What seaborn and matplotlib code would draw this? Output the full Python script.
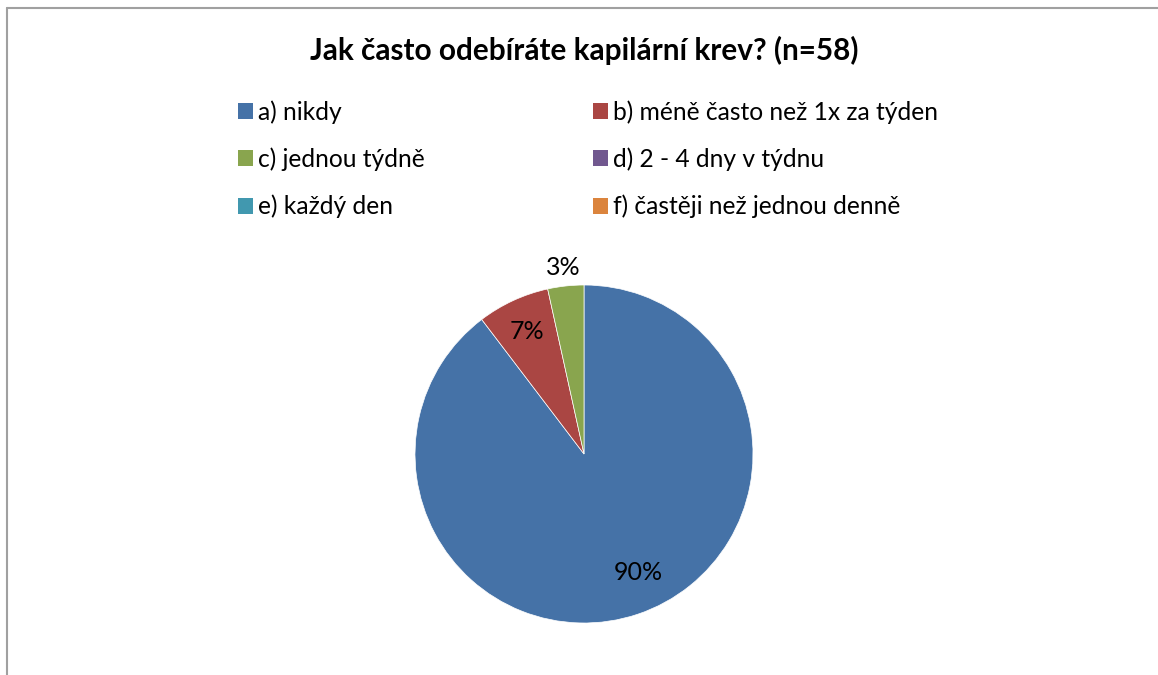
import matplotlib
matplotlib.use("Agg")
import matplotlib.pyplot as plt
from matplotlib.patches import Patch
from matplotlib.lines import Line2D
import numpy as np
import seaborn as sns

# ---- data ----
title = "Jak často odebíráte kapilární krev? (n=58)"
categories = ["a) nikdy", "b) méně často než 1x za týden", "c) jednou týdně",
              "d) 2 - 4 dny v týdnu", "e) každý den", "f) častěji než jednou denně"]
counts = [52, 4, 2, 0, 0, 0]
colors = ["#4572A7", "#AA4643", "#89A54E", "#71588F", "#4198AF", "#DB843D"]

# ---- style ----
sns.set_theme(style="white")
plt.rcParams["font.family"] = ["Lato", "DejaVu Sans"]

W, H = 1158, 675
fig = plt.figure(figsize=(W / 100, H / 100), dpi=100)
fig.patch.set_facecolor("white")

# pie axes: center (584, 454) px, radius 169 px
R = 169
cx, cy = 584, H - 454
lim = 1.2
size = 2 * lim * R
ax = fig.add_axes([(cx - size / 2) / W, (cy - size / 2) / H, size / W, size / H])

vals = [c for c in counts if c > 0]
cols = [colors[i] for i, c in enumerate(counts) if c > 0]
total = sum(counts)
wedges, _ = ax.pie(vals, colors=cols, startangle=90, counterclock=False,
                   radius=1.0, wedgeprops=dict(edgecolor="white", linewidth=0.5))
ax.set_xlim(-lim, lim)
ax.set_ylim(-lim, lim)
ax.set_aspect("equal")
ax.axis("off")

label_r = [0.77, 0.80, 1.11]
label_shift = [6, 0, 0]   # degrees
for w, v, r, s in zip(wedges, vals, label_r, label_shift):
    mid = np.deg2rad((w.theta1 + w.theta2) / 2 + s)
    ax.text(r * np.cos(mid), r * np.sin(mid), f"{round(v / total * 100)}%",
            ha="center", va="center", fontsize=18, color="black")

# title
fig.text(584 / W, 1 - 50 / H, title, ha="center", va="center",
         fontsize=21.4, fontweight="bold", color="black")

# legend (row-major, two columns)
handles = [Patch(facecolor=c, edgecolor="none") for c in colors]
common = dict(frameon=False, fontsize=17.7, handlelength=0.61, handleheight=0.61,
              handletextpad=0.2, labelspacing=0.97, borderpad=0, borderaxespad=0,
              loc="upper left", labelcolor="black")
fig.legend(handles[0::2], categories[0::2], bbox_to_anchor=(238 / W, 1 - 100 / H), **common)
fig.legend(handles[1::2], categories[1::2], bbox_to_anchor=(593 / W, 1 - 100 / H), **common)

# chart-area border (top and left visible)
bc = "#A0A0A0"
fig.add_artist(Line2D([7.5 / W, 1.0], [1 - 8 / H, 1 - 8 / H], transform=fig.transFigure,
                      color=bc, linewidth=1.5))
fig.add_artist(Line2D([7.5 / W, 7.5 / W], [1 - 8 / H, 0.0], transform=fig.transFigure,
                      color=bc, linewidth=1.5))

fig.savefig("out.png", dpi=100)
